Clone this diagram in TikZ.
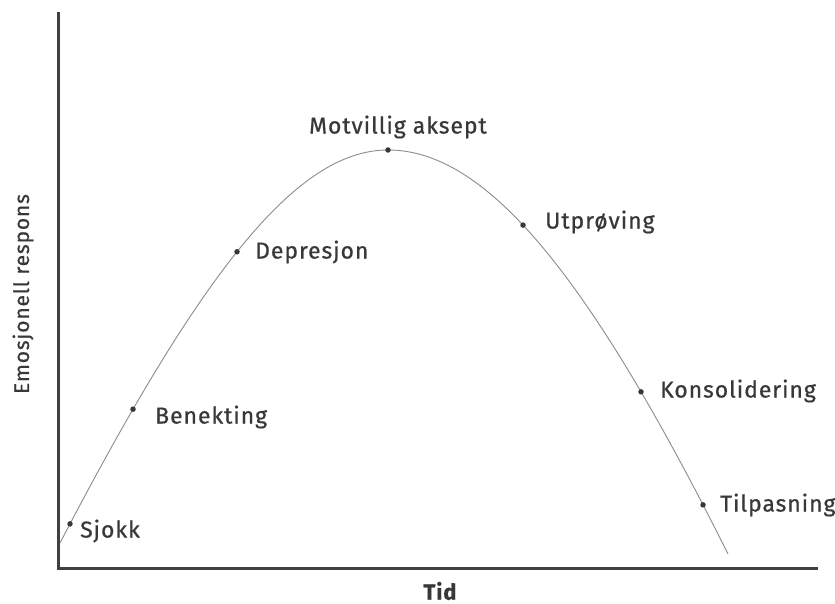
\documentclass[tikz,border=0pt]{standalone}
\usepackage{fontspec}
\setmainfont{Fira Sans}[LetterSpace=4, FakeBold=0.6]
\begin{document}
\begin{tikzpicture}[x=1pt,y=-1pt,
  declare function={fl(\x)=150+605*(sqrt(1+((388-\x)/250)^2)-1);
                    fr(\x)=150+880*(sqrt(1+((\x-388)/320)^2)-1);},
  axis/.style={draw=black!75, line width=3pt},
  curve/.style={draw=black!45, line width=0.9pt},
  dot/.style={circle, fill=black!78, inner sep=0pt, minimum size=5.5pt},
  lbl/.style={anchor=west, inner sep=0pt, text=black!78, font=\fontsize{23}{27}\selectfont}]
\useasboundingbox (0,0) rectangle (835,604);
\fill[white] (0,0) rectangle (835,604);
% axes
\coordinate (top) at (58,12);
\coordinate (origin) at (58,568);
\coordinate (xend) at (818,568);
\draw[axis] (top) -- (origin) -- (xend);
% curve
\draw[curve] plot[domain=60:388, samples=80] ({\x},{fl(\x)});
\draw[curve] plot[domain=388:728, samples=80] ({\x},{fr(\x)});
% stage points
\node[dot] (sjokk) at (70,{fl(70)}) {};
\node[dot] (benekting) at (133,{fl(133)}) {};
\node[dot] (depresjon) at (237,{fl(237)}) {};
\node[dot] (motvillig) at (388,150) {};
\node[dot] (utproving) at (523,{fr(523)}) {};
\node[dot] (konsolidering) at (641,{fr(641)}) {};
\node[dot] (tilpasning) at (703,{fr(703)}) {};
% labels
\node[lbl] (tsjokk) at (80,531) {Sjokk};
\node[lbl] (tbenekting) at (155,417) {Benekting};
\node[lbl] (tdepresjon) at (255,252) {Depresjon};
\node[lbl, anchor=center] (tmotvillig) at (398,127) {Motvillig aksept};
\node[lbl] (tutproving) at (545,222) {Utprøving};
\node[lbl] (tkonsolidering) at (660,391) {Konsolidering};
\node[lbl] (ttilpasning) at (720,505) {Tilpasning};
\node[lbl, anchor=center, font=\fontsize{22}{26}\selectfont\bfseries] (tid) at (440,591) {Tid};
\node[lbl, anchor=center, rotate=90, font=\fontsize{21}{25}\selectfont] (yl) at (23,294) {Emosjonell respons};
\end{tikzpicture}
\end{document}
